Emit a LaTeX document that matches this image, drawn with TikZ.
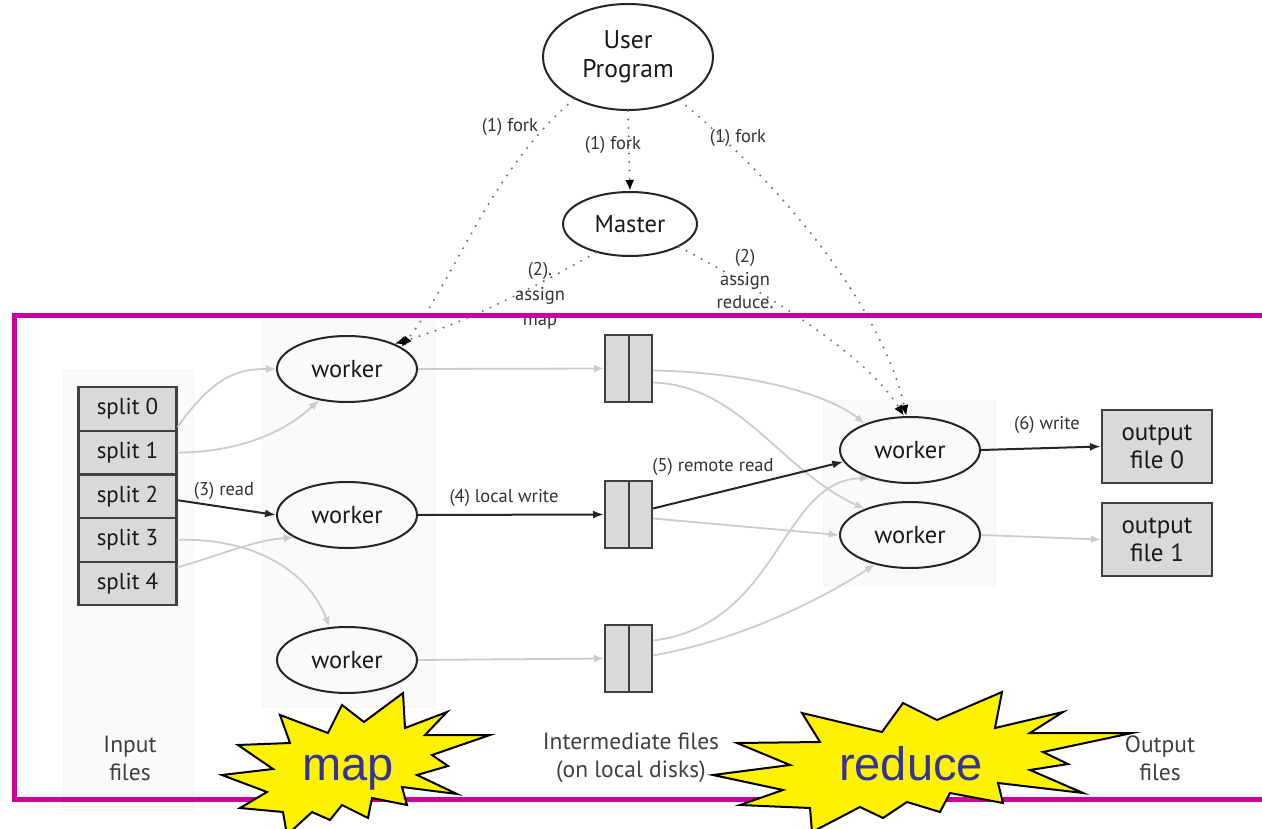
\documentclass[tikz,border=0pt]{standalone}
\usepackage{fontspec}
\setmainfont{PT Sans}
\newfontfamily\burstfont{Liberation Sans}
\usetikzlibrary{arrows.meta,shapes.geometric}
\definecolor{frame}{RGB}{204,0,153}
\definecolor{burstblue}{RGB}{51,51,153}
\definecolor{boxfill}{RGB}{217,217,217}
\tikzset{
  wk/.style={ellipse, draw=black!85, line width=2pt, minimum width=140pt, minimum height=66pt, inner sep=0pt, text=black!90, font=\fontsize{24.5}{28}\selectfont},
  splitbox/.style={rectangle, draw=black!75, line width=2.2pt, fill=boxfill, minimum width=98pt, minimum height=43.6pt, inner sep=0pt, text=black!90, font=\fontsize{23}{26}\selectfont},
  imbox/.style={rectangle, draw=black!75, line width=2pt, fill=boxfill, minimum width=47pt, minimum height=67pt, inner sep=0pt},
  outbox/.style={rectangle, draw=black!75, line width=2.2pt, fill=boxfill, minimum width=110pt, minimum height=73pt, inner sep=0pt, align=center, text=black!90, font=\fontsize{25}{28}\selectfont},
  dotline/.style={draw=black!55, line width=2.3pt, dash pattern=on 0pt off 8.5pt, line cap=round, -{Latex[length=11pt,width=9pt,black]}},
  gline/.style={draw=black!20, line width=1.8pt, -{Latex[length=10pt,width=8pt]}},
  bline/.style={draw=black!85, line width=2pt, -{Latex[length=11pt,width=8pt]}},
  lbl/.style={font=\fontsize{18.5}{23}\selectfont, text=black!80, align=center, inner sep=0pt},
  bottomlbl/.style={font=\fontsize{23.5}{28}\selectfont, text=black!75, align=center, inner sep=0pt},
  panel/.style={fill=black!2, draw=black!4, line width=0.6pt},
  burst/.style={fill=yellow, draw=black, line width=2pt, line join=miter},
  bursttext/.style={font=\burstfont\fontsize{47}{50}\selectfont, text=burstblue, inner sep=0pt, anchor=base}
}
\begin{document}
\begin{tikzpicture}[x=1pt,y=-1pt]
\useasboundingbox (0,0) rectangle (1262,829);
\fill[white] (0,0) rectangle (1262,829);

% faint panels
\path[panel] (63,370) rectangle (193,810);
\path[panel] (262,320) rectangle (434,707);
\path[panel] (823,400) rectangle (995,585);

% top nodes
\node[wk, minimum width=170pt, minimum height=106pt, align=center, font=\fontsize{25.5}{29}\selectfont] (up) at (628,57) {User\\Program};
\node[wk, minimum width=134pt, minimum height=64pt] (ms) at (630,224) {Master};

% split boxes
\node[splitbox] (s0) at (127.5,409) {split 0};
\node[splitbox] (s1) at (127.5,452.6) {split 1};
\node[splitbox] (s2) at (127.5,496.2) {split 2};
\node[splitbox] (s3) at (127.5,539.8) {split 3};
\node[splitbox] (s4) at (127.5,583.4) {split 4};

% map workers
\node[wk] (w1) at (347,369) {worker};
\node[wk] (w2) at (347,515) {worker};
\node[wk] (w3) at (347,660) {worker};

% intermediate files
\node[imbox] (im1) at (628.5,368.5) {};
\node[imbox] (im2) at (628.5,514.5) {};
\node[imbox] (im3) at (628.5,658.5) {};
\foreach \b in {im1,im2,im3} \draw[draw=black!75, line width=2pt] (\b.north) -- (\b.south);

% reduce workers
\node[wk] (rw1) at (910,450) {worker};
\node[wk] (rw2) at (910,535) {worker};

% output files
\node[outbox] (of0) at (1157,446.5) {output\\file 0};
\node[outbox] (of1) at (1157,539.5) {output\\file 1};

% gray connectors
\draw[gline] ([yshift=-18pt]s0.east) .. controls (215,374) and (240,369) .. (w1.west);
\draw[gline] (s1.east) .. controls (240,452) and (285,432) .. (w1.228);
\draw[gline] ([yshift=16pt]s4.east) .. controls (220,555) and (255,540) .. (w2.203);
\draw[gline] (s3.east) .. controls (260,538) and (310,575) .. (w3.118);
\draw[gline] (w1.east) -- (im1.west);
\draw[gline] (w3.east) -- (im3.west);
\draw[gline] ([yshift=-2pt]im1.east) .. controls (750,372) and (830,395) .. (rw1.150);
\draw[gline] ([yshift=-14pt]im1.east) .. controls (740,385) and (780,470) .. (rw2.150);
\draw[gline] ([yshift=-4pt]im2.east) -- (rw2.west);
\draw[gline] ([yshift=18pt]im3.east) .. controls (780,625) and (780,480) .. (rw1.215);
\draw[gline] ([yshift=3pt]im3.east) .. controls (740,640) and (820,600) .. (rw2.220);
\draw[gline] (rw2.east) -- (of1.west);

% black connectors
\draw[bline] ([yshift=-4pt]s2.east) -- (w2.west);
\draw[bline] (w2.east) -- (im2.west);
\draw[bline] ([yshift=6pt]im2.east) -- (rw1.190);
\draw[bline] (rw1.east) -- (of0.west);

% dotted connectors
\draw[dotline] (up.south) -- (ms.north);
\draw[dotline] (up.218) .. controls (490,170) and (455,280) .. (w1.22);
\draw[dotline] (ms.220) .. controls (530,290) and (460,325) .. (w1.28);
\draw[dotline] (up.320) .. controls (800,200) and (885,320) .. (rw1.96);
\draw[dotline] (ms.335) .. controls (780,300) and (870,360) .. (rw1.100);

% labels
\node[lbl] (lf1) at (510,127) {(1) fork};
\node[lbl] (lf2) at (613,145) {(1) fork};
\node[lbl] (lf3) at (738,138) {(1) fork};
\node[lbl, font=\fontsize{18.5}{25}\selectfont] (lam) at (540,296) {(2).\\assign\\map};
\node[lbl] (lar) at (745,279) {(2)\\assign\\reduce.};
\node[lbl] (l3) at (224,491) {(3) read};
\node[lbl] (l4) at (504,498) {(4) local write};
\node[lbl] (l5) at (713,467) {(5) remote read};
\node[lbl] (l6) at (1047,425) {(6) write};

% bottom labels
\node[bottomlbl] (bin) at (130,758) {Input\\files};
\node[bottomlbl] (bim) at (631,758) {Intermediate files\\(on local disks)};
\node[bottomlbl] (bout) at (1160,758) {Output\\files};

% magenta frame
\draw[frame, line width=5pt] (1266,316) -- (14.5,316) -- (14.5,799) -- (1266,799);

% starbursts
\draw[burst] (222,775) -- (273,769) -- (238,745) -- (290,743) -- (280,715) -- (328,733) -- (342,705) -- (364,722) -- (403,693) -- (405,728) -- (447,712) -- (425,735) -- (490,735) -- (432,755) -- (448,766) -- (417,775) -- (457,794) -- (402,787) -- (407,805) -- (372,798) -- (368,818) -- (342,805) -- (330,820) -- (312,812) -- (287,835) -- (283,812) -- (240,808) -- (267,792) -- cycle;
\node[bursttext] (tmap) at (348,780) {map};

\draw[burst] (713,775) -- (790,765) -- (737,743) -- (820,742) -- (802,713) -- (882,732) -- (903,703) -- (937,720) -- (1002,692) -- (995,728) -- (1063,712) -- (1030,733) -- (1132,733) -- (1043,752) -- (1068,764) -- (1030,770) -- (1083,793) -- (998,783) -- (1003,803) -- (950,793) -- (940,812) -- (907,802) -- (883,818) -- (860,807) -- (812,832) -- (810,808) -- (740,805) -- (783,790) -- cycle;
\node[bursttext] (tred) at (911,780) {reduce};
\end{tikzpicture}
\end{document}
